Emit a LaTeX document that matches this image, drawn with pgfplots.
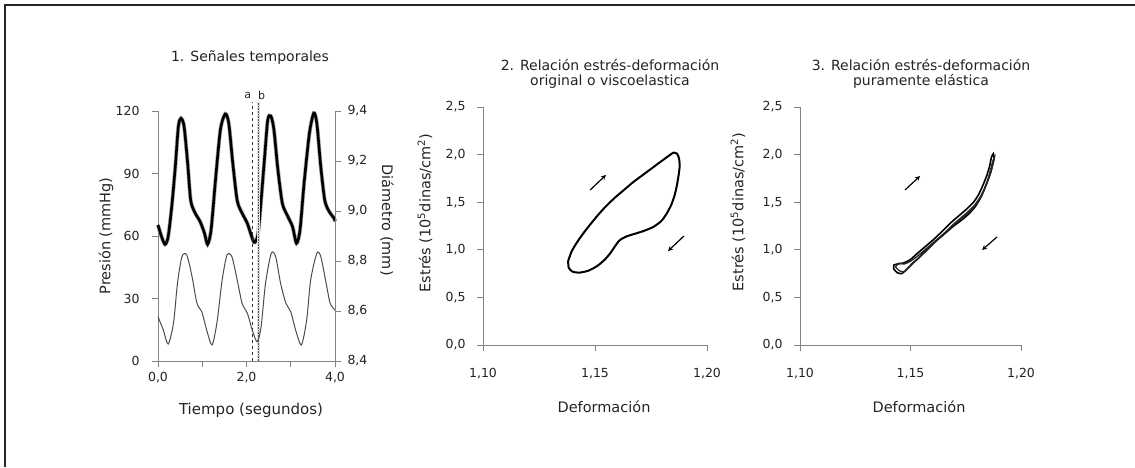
\documentclass[border=0pt]{standalone}
\usepackage{pgfplots}
\pgfplotsset{compat=1.18}
\usepackage{fontspec}
\setmainfont{DejaVu Sans}
\definecolor{axgray}{RGB}{130,130,130}
\definecolor{txt}{RGB}{35,35,35}
\pgfplotsset{
  base/.style={
    scale only axis, clip=false,
    axis line style={-, axgray, line width=0.9pt},
    tick style={axgray, line width=0.9pt},
    tick align=outside, major tick length=6pt,
    tick label style={font=\fontsize{12.5}{14}\selectfont, text=txt},
    /pgf/number format/assume math mode=true,
    /pgf/number format/use comma,
    /pgf/number format/fixed,
    /pgf/number format/fixed zerofill,
  },
}
\begin{document}
\begin{tikzpicture}
\useasboundingbox (0pt,0pt) rectangle (1135pt,467pt);
\draw[line width=1.6pt, black!85] (5pt,0pt) -- (5pt,462pt) -- (1135pt,462pt);

% ---------- Panel 1 : left axis (pressure) ----------
\begin{axis}[base, at={(158pt,106pt)}, anchor=south west,
  width=177pt, height=250pt,
  xmin=0, xmax=4, ymin=0, ymax=120,
  axis x line*=bottom, axis y line*=left,
  xtick={0,1,2,3,4}, xticklabels={0{,}0,,2{,}0,,4{,}0},
  ytick={0,30,60,90,120}, yticklabels={0,30,60,90,120},
  xticklabel style={yshift=-2pt},
  yticklabel style={xshift=-9pt},
]
\addplot[black!35, line width=4pt, smooth, tension=0.45] coordinates {
(0.00,65.3) (0.08,59.7) (0.16,56.0) (0.23,59.7) (0.31,74.0) (0.39,93.0)
(0.46,112.5) (0.52,116.5) (0.59,112.5) (0.67,95.0) (0.74,77.0) (0.84,71.0)
(0.95,67.0) (1.05,61.4) (1.12,56.0) (1.20,63.0) (1.30,87.0) (1.41,111.0)
(1.52,118.6) (1.60,114.0) (1.69,95.0) (1.79,77.0) (1.90,71.0) (2.02,66.0)
(2.17,57.0) (2.26,61.0) (2.33,77.0) (2.41,98.0) (2.48,115.7) (2.55,117.6)
(2.62,111.0) (2.71,91.7) (2.81,75.7) (2.92,70.0) (3.04,64.5) (3.13,56.5)
(3.21,63.0) (3.30,85.0) (3.42,109.0) (3.52,119.0) (3.59,114.0) (3.68,93.0)
(3.77,77.0) (3.87,71.7) (3.98,68.5) (4.00,67.0)
};
\addplot[black, line width=2.6pt, smooth, tension=0.45] coordinates {
(0.00,65.3) (0.08,59.7) (0.16,56.0) (0.23,59.7) (0.31,74.0) (0.39,93.0)
(0.46,112.5) (0.52,116.5) (0.59,112.5) (0.67,95.0) (0.74,77.0) (0.84,71.0)
(0.95,67.0) (1.05,61.4) (1.12,56.0) (1.20,63.0) (1.30,87.0) (1.41,111.0)
(1.52,118.6) (1.60,114.0) (1.69,95.0) (1.79,77.0) (1.90,71.0) (2.02,66.0)
(2.17,57.0) (2.26,61.0) (2.33,77.0) (2.41,98.0) (2.48,115.7) (2.55,117.6)
(2.62,111.0) (2.71,91.7) (2.81,75.7) (2.92,70.0) (3.04,64.5) (3.13,56.5)
(3.21,63.0) (3.30,85.0) (3.42,109.0) (3.52,119.0) (3.59,114.0) (3.68,93.0)
(3.77,77.0) (3.87,71.7) (3.98,68.5) (4.00,67.0)
};
\draw[black!80, dashed, line width=0.6pt] (axis cs:2.13,0) -- (axis cs:2.13,124.3);
\draw[black!12, line width=3pt] (axis cs:2.26,0) -- (axis cs:2.26,124.3);
\draw[black!70, densely dotted, line width=0.6pt] (axis cs:2.26,0) -- (axis cs:2.26,124.3);
\node[font=\fontsize{11}{12}\selectfont, text=txt] at (axis cs:2.03,127.5) {a};
\node[font=\fontsize{11}{12}\selectfont, text=txt] at (axis cs:2.34,127.5) {b};
\end{axis}

% ---------- Panel 1 : right axis (diameter) ----------
\begin{axis}[base, at={(158pt,106pt)}, anchor=south west,
  width=177pt, height=250pt,
  xmin=0, xmax=4, ymin=8.4, ymax=9.4,
  axis x line=none, axis y line*=right,
  ytick={8.4,8.6,8.8,9.0,9.2,9.4},
  yticklabel style={/pgf/number format/precision=1, xshift=3pt},
]
\addplot[black!70, line width=1pt, smooth, tension=0.45] coordinates {
(0.00,8.577) (0.12,8.524) (0.23,8.468) (0.35,8.551) (0.44,8.711) (0.54,8.817)
(0.65,8.824) (0.77,8.737) (0.88,8.631) (0.99,8.597) (1.10,8.524) (1.22,8.464)
(1.33,8.551) (1.45,8.724) (1.56,8.824) (1.67,8.817) (1.79,8.724) (1.90,8.631)
(2.02,8.591) (2.13,8.524) (2.24,8.477) (2.33,8.537) (2.43,8.711) (2.56,8.831)
(2.66,8.817) (2.77,8.711) (2.89,8.631) (3.00,8.597) (3.11,8.524) (3.24,8.464)
(3.36,8.564) (3.45,8.724) (3.59,8.831) (3.68,8.817) (3.80,8.711) (3.89,8.631)
(4.00,8.604)
};
\end{axis}

% ---------- Panel 2 ----------
\begin{axis}[base, at={(483pt,122pt)}, anchor=south west,
  width=224pt, height=238pt,
  xmin=1.10, xmax=1.20, ymin=0, ymax=2.5,
  axis x line*=bottom, axis y line*=left,
  xtick={1.10,1.15,1.20}, ytick={0,0.5,1,1.5,2,2.5},
  xticklabel style={/pgf/number format/precision=2, yshift=-14pt},
  yticklabel style={/pgf/number format/precision=1, xshift=-8pt},
]
\addplot[black, line width=2pt, smooth, tension=0.4] coordinates {
(1.1380,0.88) (1.1395,0.98) (1.1420,1.08) (1.1450,1.18) (1.1480,1.27)
(1.1515,1.37) (1.1550,1.46) (1.1590,1.55) (1.1630,1.63) (1.1670,1.71)
(1.1710,1.78) (1.1750,1.85) (1.1790,1.92) (1.1825,1.98) (1.1850,2.02)
(1.1866,2.01) (1.1875,1.96) (1.1878,1.88) (1.1873,1.78) (1.1865,1.67)
(1.1855,1.57) (1.1840,1.47) (1.1820,1.38) (1.1795,1.30) (1.1760,1.24)
(1.1720,1.20) (1.1680,1.17) (1.1640,1.14) (1.1610,1.10) (1.1590,1.04)
(1.1570,0.97) (1.1545,0.90) (1.1510,0.83) (1.1470,0.78) (1.1430,0.76)
(1.1400,0.77) (1.1383,0.81) (1.1380,0.88)
};
\draw[-stealth, line width=1.2pt, black] (axis cs:1.1478,1.628) -- (axis cs:1.1549,1.786);
\draw[-stealth, line width=1.2pt, black] (axis cs:1.1897,1.145) -- (axis cs:1.1826,0.987);
\end{axis}

% ---------- Panel 3 ----------
\begin{axis}[base, at={(800pt,122pt)}, anchor=south west,
  width=221pt, height=238pt,
  xmin=1.10, xmax=1.20, ymin=0, ymax=2.5,
  axis x line*=bottom, axis y line*=left,
  xtick={1.10,1.15,1.20}, ytick={0,0.5,1,1.5,2,2.5},
  xticklabel style={/pgf/number format/precision=2, yshift=-14pt},
  yticklabel style={/pgf/number format/precision=1, xshift=-8pt},
]
\addplot[black, line width=1.6pt, smooth, tension=0.4] coordinates {
(1.1424,0.80) (1.1440,0.76) (1.1460,0.75) (1.1485,0.80) (1.1510,0.86)
(1.1540,0.92) (1.1575,1.00) (1.1610,1.08) (1.1650,1.16) (1.1690,1.24)
(1.1730,1.31) (1.1765,1.38) (1.1795,1.46) (1.1820,1.56) (1.1840,1.67)
(1.1858,1.78) (1.1870,1.88) (1.1878,1.96) (1.1875,2.01) (1.1866,1.97)
(1.1858,1.88) (1.1845,1.78) (1.1828,1.68) (1.1808,1.58) (1.1785,1.50)
(1.1755,1.43) (1.1720,1.36) (1.1685,1.29) (1.1650,1.21) (1.1610,1.12)
(1.1570,1.04) (1.1530,0.96) (1.1495,0.89) (1.1465,0.86) (1.1440,0.85)
(1.1425,0.84) (1.1424,0.80)
};
\addplot[black!85, line width=1.3pt, smooth, tension=0.4] coordinates {
(1.1432,0.82) (1.1450,0.78) (1.1472,0.77) (1.1495,0.82) (1.1522,0.88)
(1.1552,0.95) (1.1588,1.03) (1.1622,1.11) (1.1660,1.19) (1.1700,1.27)
(1.1738,1.34) (1.1772,1.41) (1.1802,1.49) (1.1826,1.59) (1.1846,1.70)
(1.1863,1.81) (1.1874,1.91) (1.1880,1.97) (1.1872,1.93) (1.1862,1.84)
(1.1850,1.74) (1.1834,1.64) (1.1814,1.55) (1.1790,1.47) (1.1760,1.40)
(1.1725,1.33) (1.1690,1.26) (1.1655,1.18) (1.1615,1.10) (1.1575,1.02)
(1.1535,0.94) (1.1500,0.88) (1.1470,0.85) (1.1448,0.86) (1.1432,0.82)
};
\draw[-stealth, line width=1.2pt, black] (axis cs:1.1475,1.628) -- (axis cs:1.1543,1.775);
\draw[-stealth, line width=1.2pt, black] (axis cs:1.1891,1.134) -- (axis cs:1.1824,0.998);
\end{axis}

% ---------- Titles and labels ----------
\begin{scope}[every node/.style={text=txt}]
\node[font=\fontsize{14}{16}\selectfont] at (250pt,409pt) {1. Señales temporales};
\node[font=\fontsize{14}{16}\selectfont, align=center] at (610pt,393pt)
  {2. Relación estrés-deformación\\[-1pt]original o viscoelastica};
\node[font=\fontsize{14}{16}\selectfont, align=center] at (921pt,393pt)
  {3. Relación estrés-deformación\\[-1pt]puramente elástica};
\node[font=\fontsize{15}{17}\selectfont] at (251pt,57pt) {Tiempo (segundos)};
\node[font=\fontsize{14.5}{16}\selectfont] at (604pt,60pt) {Deformación};
\node[font=\fontsize{14.5}{16}\selectfont] at (919pt,60pt) {Deformación};
\node[font=\fontsize{14.5}{16}\selectfont, rotate=90] at (106pt,231pt) {Presión (mmHg)};
\node[font=\fontsize{14.5}{16}\selectfont, rotate=-90] at (387pt,247pt) {Diámetro (mm)};
\node[font=\fontsize{14.5}{16}\selectfont, rotate=90] at (425pt,254pt) {Estrés (10\textsuperscript{5}dinas/cm\textsuperscript{2})};
\node[font=\fontsize{14.5}{16}\selectfont, rotate=90] at (738pt,255pt) {Estrés (10\textsuperscript{5}dinas/cm\textsuperscript{2})};
\end{scope}
\end{tikzpicture}
\end{document}
